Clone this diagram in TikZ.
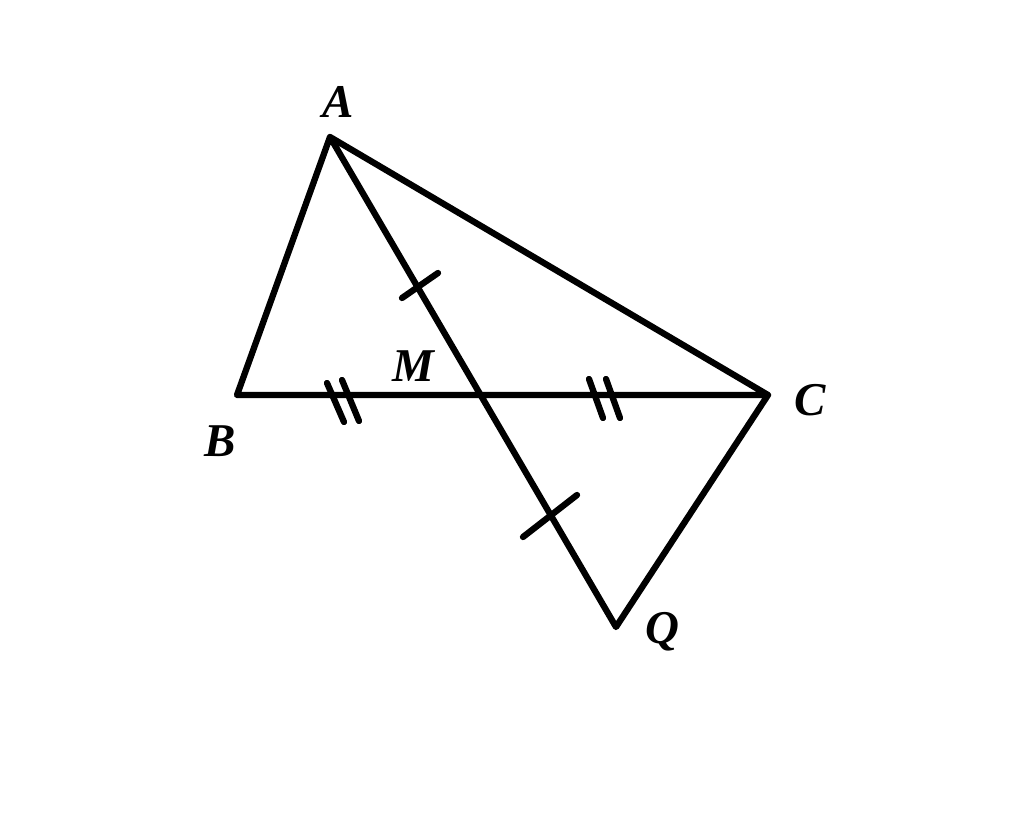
\documentclass[tikz,border=0pt]{standalone}
\usepackage{fontspec}
\setmainfont{Liberation Serif}
\usetikzlibrary{calc,intersections}
\begin{document}
\begin{tikzpicture}[x=1pt,y=-1pt,
  seg/.style={line width=6.3pt,line cap=round,line join=round},
  lbl/.style={font=\fontsize{47}{47}\selectfont\bfseries\itshape,inner sep=0pt}]
\useasboundingbox (0,0) rectangle (1024,826);
\coordinate (A) at (330,137);
\coordinate (B) at (237,395);
\coordinate (C) at (768,395);
\coordinate (Q) at (616,627);
\path[name path=aq] (A) -- (Q);
\path[name path=bc] (B) -- (C);
\path[name intersections={of=aq and bc,by=M}];
\draw[seg] (A) -- (B) -- (C) -- (A) -- (Q) -- (C);
% single ticks
\coordinate (t1a) at (402,298); \coordinate (t1b) at (438,273);
\draw[seg] (t1a) -- (t1b);
\coordinate (t2a) at (523,537); \coordinate (t2b) at (577,495);
\draw[seg] (t2a) -- (t2b);
% double ticks
\coordinate (d1a) at (327,383); \coordinate (d1b) at (344,422);
\coordinate (d2a) at (342,380); \coordinate (d2b) at (359,421);
\draw[seg] (d1a) -- (d1b);
\draw[seg] (d2a) -- (d2b);
\coordinate (d3a) at (589,379); \coordinate (d3b) at (603,418);
\coordinate (d4a) at (606,379); \coordinate (d4b) at (620,418);
\draw[seg] (d3a) -- (d3b);
\draw[seg] (d4a) -- (d4b);
% labels
\node[lbl] (lA) at (338,102) {A};
\node[lbl] (lB) at (220,441) {B};
\node[lbl] (lC) at (810,400) {C};
\node[lbl] (lM) at (413,366) {M};
\node[lbl] (lQ) at (662,632) {Q};
\end{tikzpicture}
\end{document}
